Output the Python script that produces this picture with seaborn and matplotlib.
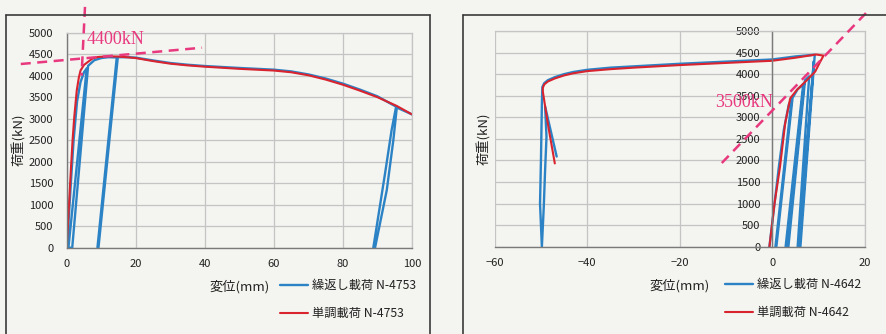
import matplotlib
matplotlib.use("Agg")
import matplotlib.pyplot as plt
import pandas as pd
import seaborn as sns

# ---------------- specimen N-4753 (load vs. displacement) ----------------
mono_4753_x = [0, 0.4, 0.8, 1.2, 1.7, 2.2, 2.9, 3.5, 4.0, 5.0, 6.3, 7.5, 9, 12, 15,
               18, 20, 25, 30, 35, 40, 50, 60, 65, 70, 75, 80, 85, 90, 95.5, 100]
mono_4753_y = [0, 600, 1200, 1800, 2500, 3050, 3650, 3950, 4120, 4250, 4330, 4400,
               4435, 4450, 4445, 4425, 4410, 4340, 4280, 4240, 4210, 4160, 4120,
               4080, 4010, 3910, 3790, 3650, 3500, 3300, 3100]

cyc_4753_x = [0, 0.6, 1.2, 2.0, 3.0, 4.0, 5.0, 5.8, 0.5, 1.6, 6.2, 8, 10, 12, 14.5,
              8.9, 9.2, 14.8, 18, 20, 25, 30, 35, 40, 50, 60, 65, 70, 75, 80, 85,
              90, 95.4, 94.1, 92.2, 88.8, 89.3, 92.7, 94.6, 95.6, 100]
cyc_4753_y = [0, 700, 1500, 2500, 3400, 3850, 4080, 4170, 0, 0, 4230, 4360, 4410,
              4430, 4425, 0, 0, 4430, 4430, 4420, 4355, 4295, 4255, 4225, 4180,
              4140, 4100, 4030, 3935, 3815, 3675, 3520, 3280, 2737, 1729, 0, 0,
              1341, 2504, 3260, 3100]

# ---------------- specimen N-4642 ----------------
mono_4642_x = [-0.6, 0.5, 1.7, 2.8, 3.9, 5.3, 7.5, 9.3, 10.2, 11.1, 9.5, 5, 0, -10,
               -20, -30, -35, -40, -43, -45, -47, -48.5, -49.3, -49.6, -49.6,
               -48.4, -47.0]
mono_4642_y = [0, 1000, 1860, 2860, 3440, 3630, 3860, 4060, 4250, 4430, 4455, 4380,
               4310, 4260, 4210, 4150, 4115, 4070, 4020, 3970, 3900, 3830, 3760,
               3680, 3600, 2780, 1930]

cyc_4642_x = [-0.6, 0.5, 1.5, 2.5, 3.6, 4.2, 0.7, 0.9, 4.4, 5.5, 6.7, 2.9, 3.1,
              6.9, 3.3, 3.5, 7.1, 8.0, 5.5, 5.7, 9.0, 5.9, 6.1, 9.2, 5, 0, -10,
              -20, -30, -35, -40, -43, -45, -47, -48.5, -49.3, -49.7, -49.8,
              -50.0, -50.2, -49.8, -49.4, -49.1, -48.8, -49.1, -46.6]
cyc_4642_y = [0, 1000, 1900, 2700, 3300, 3420, 0, 0, 3450, 3650, 3760, 0, 0, 3800,
              0, 0, 3860, 3950, 0, 0, 4300, 0, 0, 4450, 4410, 4340, 4290, 4240,
              4180, 4150, 4100, 4050, 4000, 3930, 3860, 3790, 3700, 3300, 2000,
              1000, 0, 900, 1780, 2550, 3250, 2090]

x_ticks_4753 = [0, 20, 40, 60, 80, 100]
x_ticks_4642 = [-60, -40, -20, 0, 20]
y_ticks = [0, 500, 1000, 1500, 2000, 2500, 3000, 3500, 4000, 4500, 5000]

label_cyc_4753 = "繰返し載荷 N-4753"
label_mono_4753 = "単調載荷 N-4753"
label_cyc_4642 = "繰返し載荷 N-4642"
label_mono_4642 = "単調載荷 N-4642"
x_label = "変位(mm)"
y_label = "荷重(kN)"

# yield-load construction lines
guide_4753_h = ([-13.3, 39.2], [4272, 4651])
guide_4753_v = ([5.3, 4.3], [5600, 4000])
guide_4642 = ([-10.9, 20.5], [1940, 5440])
guide_text_4753 = (5.9, 4853, "4400kN")
guide_text_4642 = (-12.4, 3354, "3500kN")

# ---------------- styling ----------------
BG = "#f4f4f0"
GRID = "#c4c4c4"
AXIS = "#7a7a7a"
BLUE = "#2b83c6"
RED = "#d9232e"
PINK = "#e8387e"
INK = "#222222"

sns.set_style("white")
plt.rcParams["font.family"] = ["Noto Sans CJK JP", "DejaVu Sans"]

fig = plt.figure(figsize=(8.87, 3.34), dpi=100, facecolor=BG)
W, H = 887, 334


def fx(px):
    return px / W


def fy(py):
    return 1 - py / H


ax_l = fig.add_axes([fx(66.7), fy(247.7), fx(412 - 66.7), (247.7 - 32.7) / H])
ax_r = fig.add_axes([fx(494.7), fy(246.7), fx(864.7 - 494.7), (246.7 - 31) / H])


def draw_curve(ax, xs, ys, color, lw, label):
    df = pd.DataFrame({"x": xs, "y": ys})
    sns.lineplot(data=df, x="x", y="y", sort=False, estimator=None, color=color,
                 lw=lw, ax=ax, label=label, legend=False)


def style_axes(ax, xlim, xticks, spine_x, ypad):
    ax.set_facecolor(BG)
    ax.set_xlim(*xlim)
    ax.set_ylim(0, 5000)
    ax.set_xticks(xticks)
    ax.set_yticks(y_ticks)
    ax.grid(True, color=GRID, lw=0.9)
    ax.set_axisbelow(True)
    for s in ["top", "right"]:
        ax.spines[s].set_visible(True)
        ax.spines[s].set_color(GRID)
        ax.spines[s].set_linewidth(0.9)
    ax.spines["left"].set_position(("data", spine_x))
    ax.spines["left"].set_color(AXIS)
    ax.spines["bottom"].set_color(AXIS)
    ax.spines["left"].set_linewidth(1.0)
    ax.spines["bottom"].set_linewidth(1.0)
    ax.tick_params(axis="both", length=0, labelsize=8, colors=INK)
    ax.tick_params(axis="y", pad=ypad)
    ax.tick_params(axis="x", pad=8)
    ax.set_xlabel("")
    ax.set_ylabel("")


# left panel: N-4753
draw_curve(ax_l, cyc_4753_x, cyc_4753_y, BLUE, 1.7, label_cyc_4753)
draw_curve(ax_l, mono_4753_x, mono_4753_y, RED, 1.5, label_mono_4753)
style_axes(ax_l, (0, 100), x_ticks_4753, 0, 9.5)
ax_l.spines["left"].set_visible(True)

# right panel: N-4642
draw_curve(ax_r, cyc_4642_x, cyc_4642_y, BLUE, 1.7, label_cyc_4642)
draw_curve(ax_r, mono_4642_x, mono_4642_y, RED, 1.5, label_mono_4642)
style_axes(ax_r, (-60, 20), x_ticks_4642, 0, 8.5)

# dashed construction lines and their load values
dash = dict(color=PINK, lw=1.8, ls=(0, (4, 2.6)), clip_on=False, zorder=5)
ax_l.plot(*guide_4753_h, **dash)
ax_l.plot(*guide_4753_v, **dash)
ax_r.plot(*guide_4642, **dash)
ax_l.text(guide_text_4753[0], guide_text_4753[1], guide_text_4753[2],
          family="Liberation Serif", fontsize=13, color=PINK, va="center", ha="left")
ax_r.text(guide_text_4642[0], guide_text_4642[1], guide_text_4642[2],
          family="Liberation Serif", fontsize=13, color=PINK, va="center", ha="left",
          zorder=6)

# axis titles
fig.text(fx(240), fy(287), x_label, fontsize=9.5, color=INK, ha="center", va="center")
fig.text(fx(680), fy(286), x_label, fontsize=9.5, color=INK, ha="center", va="center")
fig.text(fx(19), fy(140), y_label, fontsize=9.5, color=INK, ha="center", va="center",
         rotation=90)
fig.text(fx(484), fy(139), y_label, fontsize=9.5, color=INK, ha="center", va="center",
         rotation=90)

# legends
leg_kw = dict(loc="upper left", bbox_transform=fig.transFigure, frameon=False,
              handlelength=2.3, handletextpad=0.3, labelspacing=1.25, borderpad=0,
              borderaxespad=0, fontsize=8.8, labelcolor=INK)
ax_l.legend(bbox_to_anchor=(fx(280), fy(279)), **leg_kw)
ax_r.legend(bbox_to_anchor=(fx(725), fy(278)), **leg_kw)

# panel frames
frame = dict(color="#3a3a3a", lw=1.2, transform=fig.transFigure)
fig.add_artist(plt.Line2D([fx(6), fx(6)], [fy(15), 0], **frame))
fig.add_artist(plt.Line2D([fx(6), fx(430)], [fy(15), fy(15)], **frame))
fig.add_artist(plt.Line2D([fx(430), fx(430)], [fy(15), 0], **frame))
fig.add_artist(plt.Line2D([fx(463), fx(463)], [fy(15), 0], **frame))
fig.add_artist(plt.Line2D([fx(463), 1], [fy(15), fy(15)], **frame))

fig.savefig("out.png", dpi=100, facecolor=BG)
